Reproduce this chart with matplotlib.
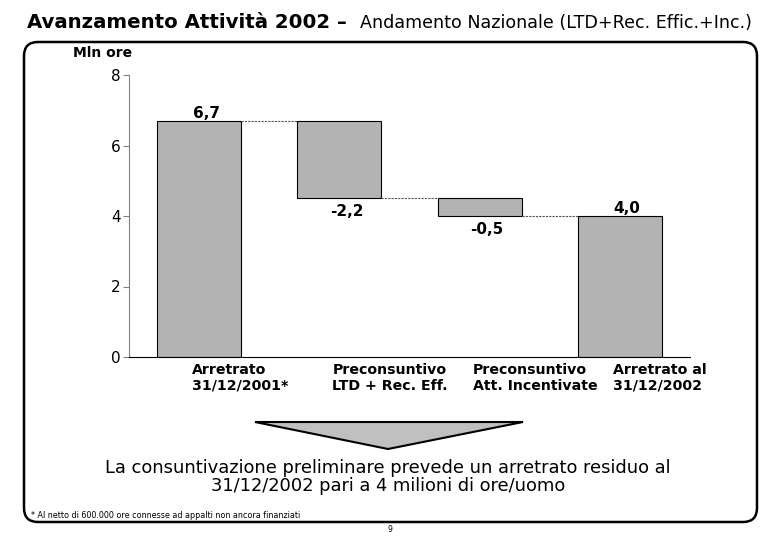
import numpy as np
import matplotlib.pyplot as plt
from matplotlib.patches import FancyBboxPatch, Polygon
from matplotlib.transforms import IdentityTransform

# dati (milioni di ore)
categorie = ["Arretrato\n31/12/2001*", "Preconsuntivo\nLTD + Rec. Eff.",
             "Preconsuntivo\nAtt. Incentivate", "Arretrato al\n31/12/2002"]
valori = [6.7, -2.2, -0.5, 4.0]
etichette = ["6,7", "-2,2", "-0,5", "4,0"]
totale = [True, False, False, True]
yticks = [0, 2, 4, 6, 8]

# basi e altezze a cascata
basi = []
alt = []
livello = 0.0
for v, t in zip(valori, totale):
    if t:
        basi.append(0.0)
        alt.append(v)
        livello = v
    else:
        basi.append(livello + v)
        alt.append(-v)
        livello = livello + v

W, H = 780, 540
fig = plt.figure(figsize=(7.8, 5.4), dpi=100)

# cornice arrotondata
box = FancyBboxPatch((24, H - 522), 733, 480, boxstyle="round,pad=0,rounding_size=14",
                     transform=IdentityTransform(), fill=False, ec="black", lw=1.8)
fig.patches.append(box)

ax = fig.add_axes([129 / W, 1 - 357 / H, (690 - 129) / W, (357 - 75) / H])
x = np.arange(len(valori))
ax.bar(x, alt, bottom=basi, width=0.6, color="#b3b3b3", edgecolor="black", linewidth=0.8)

# linee di collegamento
for i in range(len(valori) - 1):
    liv = basi[i] + alt[i] if valori[i] > 0 else basi[i]
    ax.plot([i + 0.3, i + 0.7], [liv, liv], color="#555555", lw=0.8,
            linestyle=(0, (2, 1)))

# etichette valori
for i, (v, lab) in enumerate(zip(valori, etichette)):
    if v > 0:
        ax.annotate(lab, (i + 0.05, basi[i] + alt[i]), xytext=(0, 0),
                    textcoords="offset points", ha="center", va="bottom",
                    fontsize=11, fontweight="bold")
    else:
        ax.annotate(lab, (i + 0.05, basi[i]), xytext=(0, -4),
                    textcoords="offset points", ha="center", va="top",
                    fontsize=11, fontweight="bold")

# etichette categorie
for i, c in enumerate(categorie):
    ax.text(i - 0.05, -0.02, c, transform=ax.get_xaxis_transform(), ha="left", va="top",
            fontsize=10.2, fontweight="bold", linespacing=1.2)

ax.set_xlim(-0.5, 3.5)
ax.set_ylim(0, 8)
ax.set_yticks(yticks)
ax.set_xticks([])
ax.tick_params(axis="y", labelsize=11, length=4, color="#808080", pad=2)
ax.spines["top"].set_visible(False)
ax.spines["right"].set_visible(False)
ax.spines["left"].set_color("#808080")
ax.spines["bottom"].set_color("black")

fig.text(73 / W, 1 - 53 / H, "Mln ore", fontsize=10, fontweight="bold", va="center")

# titolo
fig.text(27 / W, 1 - 22 / H, "Avanzamento Attività 2002 –", fontsize=14.2,
         fontweight="bold", va="center")
fig.text(360 / W, 1 - 23 / H, "Andamento Nazionale (LTD+Rec. Effic.+Inc.)",
         fontsize=12.6, va="center")

# freccia
tri = Polygon([(255 / W, 1 - 422 / H), (523 / W, 1 - 422 / H), (388 / W, 1 - 449 / H)],
              closed=True, transform=fig.transFigure, fc="#c0c0c0", ec="black", lw=1.5)
fig.patches.append(tri)

fig.text(388 / W, 1 - 477 / H,
         "La consuntivazione preliminare prevede un arretrato residuo al\n"
         "31/12/2002 pari a 4 milioni di ore/uomo",
         fontsize=12.9, ha="center", va="center", linespacing=1.05)

fig.text(31 / W, 1 - 515 / H, "* Al netto di 600.000 ore connesse ad appalti non ancora finanziati",
         fontsize=5.8, va="center")
fig.text(390 / W, 1 - 530 / H, "9", fontsize=5.5, ha="center", va="center")

fig.savefig("out.png", dpi=100)
